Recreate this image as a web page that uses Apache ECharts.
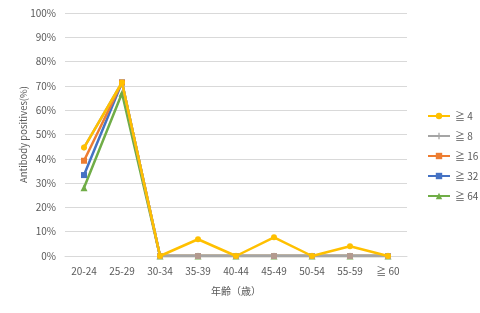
<!DOCTYPE html>
<html><head><meta charset="utf-8">
<script src="https://cdn.jsdelivr.net/npm/echarts@6/dist/echarts.min.js"></script>
<style>html,body{margin:0;padding:0;background:#fff}#c{width:480px;height:313px}</style>
</head><body><div id="c"></div>
<script>
const categories = ['20-24','25-29','30-34','35-39','40-44','45-49','50-54','55-59','≧ 60'];
const yTicks = [0,10,20,30,40,50,60,70,80,90,100];
const s4  = [44.6, 71.4, 0, 6.9, 0, 7.7, 0, 4.0, 0];
const s8  = [44.6, 71.4, 0, 0, 0, 0, 0, 0, 0];
const s16 = [39.2, 71.4, 0, 0, 0, 0, 0, 0, 0];
const s32 = [33.3, 71.4, 0, 0, 0, 0, 0, 0, 0];
const s64 = [28.1, 67.0, 0, 0, 0, 0, 0, 0, 0];
const names = ['≧ 4','≧ 8','≧ 16','≧ 32','≧ 64'];

const font = '"Noto Sans CJK JP", "Noto Sans", sans-serif';
const plus = 'path://M4,0H6V4H10V6H6V10H4V6H0V4H4Z';
function mk(name, data, color, symbol, size, z, zeroColor) {
  return {
    name, type: 'line', data: data.map((v,i) => (zeroColor && i > 1) ? {value: v, symbol: 'rect', symbolSize: 6, itemStyle: {color: zeroColor}} : v),
    symbol, symbolSize: size, showSymbol: true, z,
    lineStyle: {color, width: 2.5}, itemStyle: {color},
    emphasis: {disabled: true}
  };
}
const chart = echarts.init(document.getElementById('c'));
chart.setOption({
  animation: false,
  textStyle: {fontFamily: font},
  grid: {left: 65, right: 73, top: 13, bottom: 57},
  legend: {
    orient: 'vertical', left: 422, top: 106,
    data: names, itemWidth: 22, itemHeight: 8, itemGap: 10,
    textStyle: {color: '#595959', fontSize: 10, lineHeight: 10, fontFamily: font}
  },
  xAxis: {
    type: 'category', data: categories, boundaryGap: true,
    name: '年齢（歳）', nameLocation: 'middle', nameGap: 30,
    nameTextStyle: {color: '#595959', fontSize: 10},
    axisLine: {lineStyle: {color: '#d9d9d9'}},
    axisTick: {show: false},
    axisLabel: {color: '#595959', fontSize: 10, margin: 10}
  },
  yAxis: {
    type: 'value', min: yTicks[0], max: yTicks[yTicks.length-1], interval: 10,
    name: 'Antibody positives(%)', nameLocation: 'middle', nameGap: 37, nameMoveOverlap: false,
    nameTextStyle: {color: '#595959', fontSize: 9.5},
    axisLine: {show: false}, axisTick: {show: false},
    splitLine: {lineStyle: {color: '#d9d9d9'}},
    axisLabel: {color: '#595959', fontSize: 10, formatter: '{value}%', margin: 9}
  },
  series: [
    mk(names[0], s4, '#FFC000', 'circle', 6, 10),
    mk(names[1], s8, '#A5A5A5', plus, 6, 8, '#B39A8E'),
    mk(names[2], s16, '#ED7D31', 'rect', 6, 6),
    mk(names[3], s32, '#4472C4', 'rect', 6, 5),
    mk(names[4], s64, '#70AD47', 'triangle', 7, 4)
  ]
});
</script></body></html>
